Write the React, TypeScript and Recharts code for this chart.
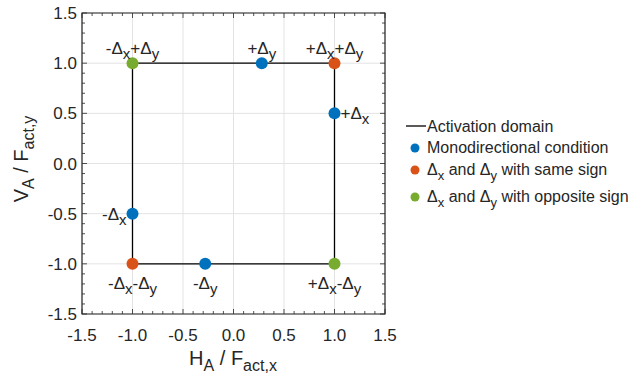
import React from "react";
import {
  ScatterChart,
  Scatter,
  XAxis,
  YAxis,
  CartesianGrid,
  ReferenceArea,
  Label,
} from "recharts";

type Pt = { x: number; y: number; label: string[][]; place: string };

const majorTicks = [-1.5, -1, -0.5, 0, 0.5, 1, 1.5];
const minorTicks = [
  -1.5, -1.4, -1.3, -1.2, -1.1, -1, -0.9, -0.8, -0.7, -0.6, -0.5, -0.4, -0.3, -0.2, -0.1, 0,
  0.1, 0.2, 0.3, 0.4, 0.5, 0.6, 0.7, 0.8, 0.9, 1, 1.1, 1.2, 1.3, 1.4, 1.5,
];

const domainPath = [
  { x: -1, y: 1 },
  { x: 1, y: 1 },
  { x: 1, y: -1 },
  { x: -1, y: -1 },
  { x: -1, y: 1 },
];

const monoPoints: Pt[] = [
  { x: 0.28, y: 1, label: [["+Δ", "y"]], place: "above" },
  { x: 1, y: 0.5, label: [["+Δ", "x"]], place: "right" },
  { x: -1, y: -0.5, label: [["-Δ", "x"]], place: "left" },
  { x: -0.28, y: -1, label: [["-Δ", "y"]], place: "below" },
];

const sameSignPoints: Pt[] = [
  { x: 1, y: 1, label: [["+Δ", "x"], ["+Δ", "y"]], place: "above" },
  { x: -1, y: -1, label: [["-Δ", "x"], ["-Δ", "y"]], place: "below" },
];

const oppositeSignPoints: Pt[] = [
  { x: -1, y: 1, label: [["-Δ", "x"], ["+Δ", "y"]], place: "above" },
  { x: 1, y: -1, label: [["+Δ", "x"], ["-Δ", "y"]], place: "below" },
];

const legendItems = [
  { kind: "line", color: "#000000", parts: [["Activation domain", ""]] },
  { kind: "dot", color: "#0072BD", parts: [["Monodirectional condition", ""]] },
  { kind: "dot", color: "#D95319", parts: [["Δ", "x"], [" and Δ", "y"], [" with same sign", ""]] },
  { kind: "dot", color: "#77AC30", parts: [["Δ", "x"], [" and Δ", "y"], [" with opposite sign", ""]] },
];

const FONT = "'Liberation Sans', Arial, Helvetica, sans-serif";
const TXT = "#262626";

// plot frame (follows from the chart margins below)
const W = 635;
const H = 381;
const MARGIN = { top: 13, right: 250, left: 32, bottom: 27 };
const PLOT_TOP = MARGIN.top;
const PLOT_BOTTOM = H - MARGIN.bottom - 40;
const PLOT_LEFT = MARGIN.left + 50;
const PLOT_RIGHT = W - MARGIN.right;

const isMajor = (v: number) => majorTicks.some((m) => Math.abs(m - v) < 1e-9);

// text with subscript pieces: [[main, sub], ...]
function SubText({ parts, x, y, size, subSize, anchor, rotate, shift = 5 }: any) {
  const spans: any[] = [];
  parts.forEach((p: string[], i: number) => {
    spans.push(
      <tspan key={`m${i}`} dy={i === 0 ? 0 : -shift} fontSize={size}>
        {p[0]}
      </tspan>
    );
    spans.push(
      <tspan key={`s${i}`} dy={shift} fontSize={subSize}>
        {p[1] || ""}
      </tspan>
    );
  });
  return (
    <text
      x={x}
      y={y}
      textAnchor={anchor}
      fill={TXT}
      fontFamily={FONT}
      transform={rotate ? `rotate(-90 ${x} ${y})` : undefined}
    >
      {spans}
    </text>
  );
}

const XTick = (props: any) => {
  const { x, y, payload } = props;
  const v = payload.value;
  const len = isMajor(v) ? 5 : 3;
  return (
    <g>
      <line x1={x} x2={x} y1={PLOT_BOTTOM} y2={PLOT_BOTTOM - len} stroke={TXT} strokeWidth={0.8} />
      <line x1={x} x2={x} y1={PLOT_TOP} y2={PLOT_TOP + len} stroke={TXT} strokeWidth={0.8} />
      {isMajor(v) && (
        <text x={x} y={y} dy="0.71em" textAnchor="middle" fill={TXT} fontSize={17} fontFamily={FONT}>
          {v.toFixed(1)}
        </text>
      )}
    </g>
  );
};

const YTick = (props: any) => {
  const { x, y, payload } = props;
  const v = payload.value;
  const len = isMajor(v) ? 5 : 3;
  return (
    <g>
      <line x1={PLOT_LEFT} x2={PLOT_LEFT + len} y1={y} y2={y} stroke={TXT} strokeWidth={0.8} />
      <line x1={PLOT_RIGHT} x2={PLOT_RIGHT - len} y1={y} y2={y} stroke={TXT} strokeWidth={0.8} />
      {isMajor(v) && (
        <text x={x} y={y} dy="0.355em" textAnchor="end" fill={TXT} fontSize={17} fontFamily={FONT}>
          {v.toFixed(1)}
        </text>
      )}
    </g>
  );
};

const makeShape = (color: string) => (props: any) => {
  const { cx, cy, payload } = props;
  const p: Pt = payload;
  let tx = cx;
  let ty = cy;
  let anchor = "middle";
  if (p.place === "above") ty = cy - 9;
  if (p.place === "below") ty = cy + 25;
  if (p.place === "right") {
    tx = cx + 6;
    ty = cy + 6;
    anchor = "start";
  }
  if (p.place === "left") {
    tx = cx - 6;
    ty = cy + 6;
    anchor = "end";
  }
  return (
    <g>
      <circle cx={cx} cy={cy} r={6} fill={color} />
      <SubText parts={p.label} x={tx} y={ty} size={17} subSize={15} anchor={anchor} />
    </g>
  );
};

const noShape = () => <g />;

function LegendBox() {
  const rowsY = [126, 147, 169, 196];
  return (
    <g fontFamily={FONT}>
      {legendItems.map((it, i) => (
        <g key={i}>
          {it.kind === "line" ? (
            <line x1={406} x2={426} y1={rowsY[i]} y2={rowsY[i]} stroke={it.color} strokeWidth={1.3} />
          ) : (
            <circle cx={415} cy={rowsY[i] + 1} r={4.5} fill={it.color} />
          )}
          <SubText parts={it.parts} x={427} y={rowsY[i] + 5.5} size={16} subSize={13} anchor="start" />
        </g>
      ))}
    </g>
  );
}

export default function App() {
  return (
    <div style={{ position: "absolute", left: 0, top: 0, background: "#fff" }}>
      <ScatterChart width={W} height={H} margin={MARGIN}>
        <CartesianGrid
          stroke="#e3e3e3"
          strokeWidth={1}
          horizontalValues={majorTicks}
          verticalValues={majorTicks}
        />
        <XAxis
          type="number"
          dataKey="x"
          domain={[-1.5, 1.5]}
          ticks={minorTicks}
          interval={0}
          height={40}
          axisLine={false}
          tickLine={false}
          tickSize={0}
          tickMargin={15}
          tick={<XTick />}
          allowDataOverflow
        >
          <Label
            content={() => (
              <SubText
                parts={[["H", "A"], [" / F", "act,x"]]}
                x={233}
                y={365}
                size={20}
                subSize={16}
                anchor="middle"
                shift={6}
              />
            )}
          />
        </XAxis>
        <YAxis
          type="number"
          dataKey="y"
          domain={[-1.5, 1.5]}
          ticks={minorTicks}
          interval={0}
          width={50}
          axisLine={false}
          tickLine={false}
          tickSize={0}
          tickMargin={5}
          tick={<YTick />}
          allowDataOverflow
        >
          <Label
            content={() => (
              <SubText
                parts={[["V", "A"], [" / F", "act,y"]]}
                x={28}
                y={159}
                size={20}
                subSize={16}
                anchor="middle"
                shift={6}
                rotate
              />
            )}
          />
        </YAxis>
        <ReferenceArea
          x1={-1.5}
          x2={1.5}
          y1={-1.5}
          y2={1.5}
          fill="none"
          fillOpacity={0}
          stroke={TXT}
          strokeWidth={1.2}
        />
        <Scatter
          name="Activation domain"
          data={domainPath}
          line={{ stroke: "#000", strokeWidth: 1.3 }}
          lineJointType="linear"
          shape={noShape}
          isAnimationActive={false}
        />
        <Scatter
          name="Monodirectional condition"
          data={monoPoints}
          shape={makeShape("#0072BD")}
          isAnimationActive={false}
        />
        <Scatter
          name="Same sign"
          data={sameSignPoints}
          shape={makeShape("#D95319")}
          isAnimationActive={false}
        />
        <Scatter
          name="Opposite sign"
          data={oppositeSignPoints}
          shape={makeShape("#77AC30")}
          isAnimationActive={false}
        />
        <LegendBox />
      </ScatterChart>
    </div>
  );
}
